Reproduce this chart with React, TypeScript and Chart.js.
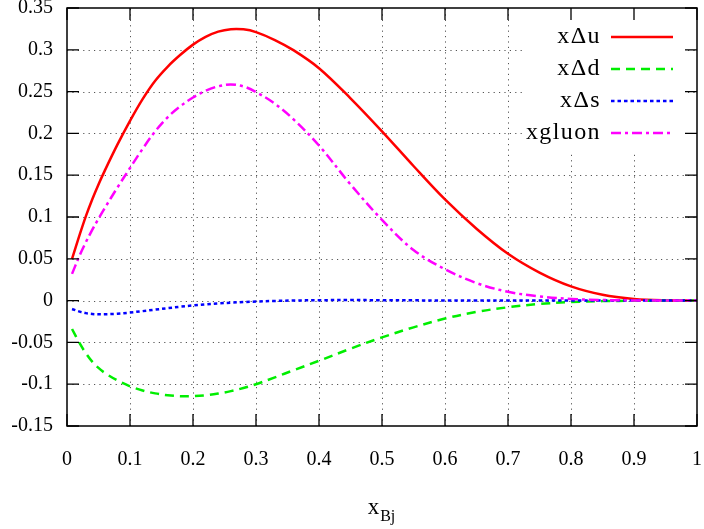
import { useEffect, useRef } from "react";
import { Chart, registerables } from "chart.js";

Chart.register(...registerables);

// ---- data ----
const xBj = [0.008, 0.02, 0.03, 0.04, 0.05, 0.06, 0.08, 0.1, 0.12, 0.14, 0.16, 0.18, 0.2, 0.22, 0.24, 0.26, 0.28, 0.3, 0.33, 0.36, 0.4, 0.45, 0.5, 0.55, 0.6, 0.65, 0.7, 0.75, 0.8, 0.85, 0.9, 0.95, 1.0];
const xDeltaU = [0.05, 0.0785, 0.101, 0.121, 0.139, 0.1555, 0.1865, 0.215, 0.241, 0.263, 0.28, 0.294, 0.3062, 0.3155, 0.3218, 0.3247, 0.3245, 0.3212, 0.3117, 0.2993, 0.278, 0.242, 0.2025, 0.161, 0.121, 0.086, 0.056, 0.0335, 0.017, 0.007, 0.002, 0.0003, 0];
const xDeltaD = [-0.034, -0.051, -0.063, -0.073, -0.0805, -0.0865, -0.0955, -0.1025, -0.1075, -0.111, -0.1132, -0.1143, -0.1143, -0.1133, -0.1112, -0.1083, -0.1045, -0.1, -0.0918, -0.0832, -0.072, -0.0575, -0.044, -0.032, -0.0215, -0.0135, -0.008, -0.004, -0.0017, -0.0006, -0.0002, 0, 0];
const xDeltaS = [-0.01, -0.0132, -0.015, -0.016, -0.0164, -0.0164, -0.0157, -0.0143, -0.0126, -0.0108, -0.009, -0.0073, -0.0058, -0.0045, -0.0034, -0.0025, -0.0017, -0.0011, -0.0004, 0.0001, 0.0005, 0.0006, 0.0005, 0.0003, 0.0002, 0.0001, 0, 0, 0, 0, 0, 0, 0];
const xGluon = [0.032, 0.054, 0.07, 0.0845, 0.098, 0.1108, 0.1352, 0.1586, 0.1815, 0.2025, 0.2195, 0.2325, 0.243, 0.251, 0.2563, 0.2585, 0.2562, 0.2495, 0.2355, 0.2165, 0.1855, 0.139, 0.0965, 0.0605, 0.0375, 0.021, 0.0105, 0.005, 0.002, 0.0007, 0.0002, 0, 0];

const seriesLabels = ["xΔu", "xΔd", "xΔs", "xgluon"];
const seriesValues = [xDeltaU, xDeltaD, xDeltaS, xGluon];
const seriesColors = ["#ff0000", "#00ee00", "#0000ff", "#ff00ff"];
const seriesDashes: number[][] = [[], [9, 6], [3.5, 3], [10, 4, 3, 4]];

const xMin = 0, xMax = 1, xStep = 0.1;
const yMin = -0.15, yMax = 0.35, yStep = 0.05;
const xTitleMain = "x";
const xTitleSub = "Bj";

const FONT = '"Liberation Serif", "Times New Roman", serif';

const fmt = (v: number) => String(Number(v.toFixed(2)));

const gnuplotPlugin = {
  id: "gnuplotLook",
  beforeDatasetsDraw(chart: any) {
    const { ctx, chartArea: a, scales } = chart;
    const xs = scales.x, ys = scales.y;
    ctx.save();
    ctx.strokeStyle = "#555555";
    ctx.lineWidth = 1;
    ctx.setLineDash([1.2, 4.2]);
    for (const t of xs.ticks) {
      const px = Math.round(xs.getPixelForValue(t.value)) + 0.5;
      if (px <= a.left + 1 || px >= a.right - 1) continue;
      ctx.beginPath();
      ctx.moveTo(px, a.bottom);
      ctx.lineTo(px, a.top);
      ctx.stroke();
    }
    for (const t of ys.ticks) {
      const py = Math.round(ys.getPixelForValue(t.value)) + 0.5;
      if (py <= a.top + 1 || py >= a.bottom - 1) continue;
      ctx.beginPath();
      ctx.moveTo(a.left, py);
      ctx.lineTo(a.right, py);
      ctx.stroke();
    }
    ctx.setLineDash([]);
    // opaque key box
    ctx.fillStyle = "#ffffff";
    ctx.fillRect(522, a.top + 1, 164, 142);
    ctx.restore();
  },
  afterDatasetsDraw(chart: any) {
    const { ctx, chartArea: a, scales } = chart;
    const xs = scales.x, ys = scales.y;
    ctx.save();
    // legend
    ctx.font = `24px ${FONT}`;
    (ctx as any).letterSpacing = "1.4px";
    ctx.textAlign = "right";
    ctx.textBaseline = "middle";
    const rowY = [37, 69, 101, 133];
    seriesLabels.forEach((lab, i) => {
      const yy = rowY[i];
      ctx.fillStyle = "#000";
      ctx.fillText(lab, 601, yy);
      ctx.strokeStyle = seriesColors[i];
      ctx.lineWidth = 2.5;
      ctx.setLineDash(seriesDashes[i]);
      ctx.beginPath();
      ctx.moveTo(611, yy);
      ctx.lineTo(673, yy);
      ctx.stroke();
    });
    (ctx as any).letterSpacing = "0px";
    ctx.setLineDash([]);
    // ticks (inward)
    ctx.strokeStyle = "#000";
    ctx.lineWidth = 1.3;
    const tl = 12;
    for (const t of xs.ticks) {
      const px = xs.getPixelForValue(t.value);
      ctx.beginPath();
      ctx.moveTo(px, a.bottom);
      ctx.lineTo(px, a.bottom - tl);
      ctx.moveTo(px, a.top);
      ctx.lineTo(px, a.top + tl);
      ctx.stroke();
    }
    for (const t of ys.ticks) {
      const py = ys.getPixelForValue(t.value);
      ctx.beginPath();
      ctx.moveTo(a.left, py);
      ctx.lineTo(a.left + tl, py);
      ctx.moveTo(a.right, py);
      ctx.lineTo(a.right - tl, py);
      ctx.stroke();
    }
    // border
    ctx.lineWidth = 1.5;
    ctx.strokeRect(a.left, a.top, a.right - a.left, a.bottom - a.top);
    // x title with subscript
    ctx.fillStyle = "#000";
    ctx.textAlign = "left";
    ctx.textBaseline = "alphabetic";
    ctx.font = `23px ${FONT}`;
    const wMain = ctx.measureText(xTitleMain).width;
    ctx.font = `16px ${FONT}`;
    const wSub = ctx.measureText(xTitleSub).width;
    const cx = (a.left + a.right) / 2 - 1;
    const x0 = cx - (wMain + wSub) / 2;
    ctx.font = `23px ${FONT}`;
    ctx.fillText(xTitleMain, x0, 514);
    ctx.font = `16px ${FONT}`;
    ctx.fillText(xTitleSub, x0 + wMain + 1, 521);
    ctx.restore();
  },
};

export default function App() {
  const ref = useRef<HTMLCanvasElement | null>(null);
  useEffect(() => {
    document.body.style.margin = "0";
    const canvas = ref.current!;
    const order = [3, 2, 1, 0];
    const chart = new Chart(canvas, {
      type: "line",
      data: {
        datasets: seriesLabels.map((lab, i) => ({
          label: lab,
          data: xBj.map((x, k) => ({ x, y: seriesValues[i][k] })),
          borderColor: seriesColors[i],
          backgroundColor: seriesColors[i],
          borderWidth: 2.5,
          borderDash: seriesDashes[i],
          pointRadius: 0,
          fill: false,
          tension: 0.35,
          order: order[i],
        })),
      },
      options: {
        responsive: false,
        animation: false,
        devicePixelRatio: 1,
        layout: { padding: { top: 8, right: 7, left: 0, bottom: 0 } },
        plugins: { legend: { display: false }, tooltip: { enabled: false } },
        scales: {
          x: {
            type: "linear",
            min: xMin,
            max: xMax,
            grid: { display: false, drawTicks: false },
            border: { display: false },
            ticks: {
              stepSize: xStep,
              padding: 22,
              color: "#000",
              maxRotation: 0,
              font: { family: FONT, size: 20 },
              callback: (v: any) => fmt(Number(v)),
            },
            afterFit: (s: any) => {
              s.height = 103;
              s.paddingLeft = 0;
              s.paddingRight = 0;
            },
          },
          y: {
            type: "linear",
            min: yMin,
            max: yMax,
            grid: { display: false, drawTicks: false },
            border: { display: false },
            ticks: {
              stepSize: yStep,
              padding: 14,
              color: "#000",
              font: { family: FONT, size: 20 },
              callback: (v: any) => fmt(Number(v)),
            },
            afterFit: (s: any) => {
              s.width = 67;
              s.paddingTop = 0;
              s.paddingBottom = 0;
            },
          },
        },
      },
      plugins: [gnuplotPlugin],
    });
    return () => chart.destroy();
  }, []);
  return (
    <div style={{ position: "absolute", left: 0, top: 0, width: 704, height: 529, background: "#fff" }}>
      <canvas ref={ref} width={704} height={529} style={{ display: "block" }} />
    </div>
  );
}
